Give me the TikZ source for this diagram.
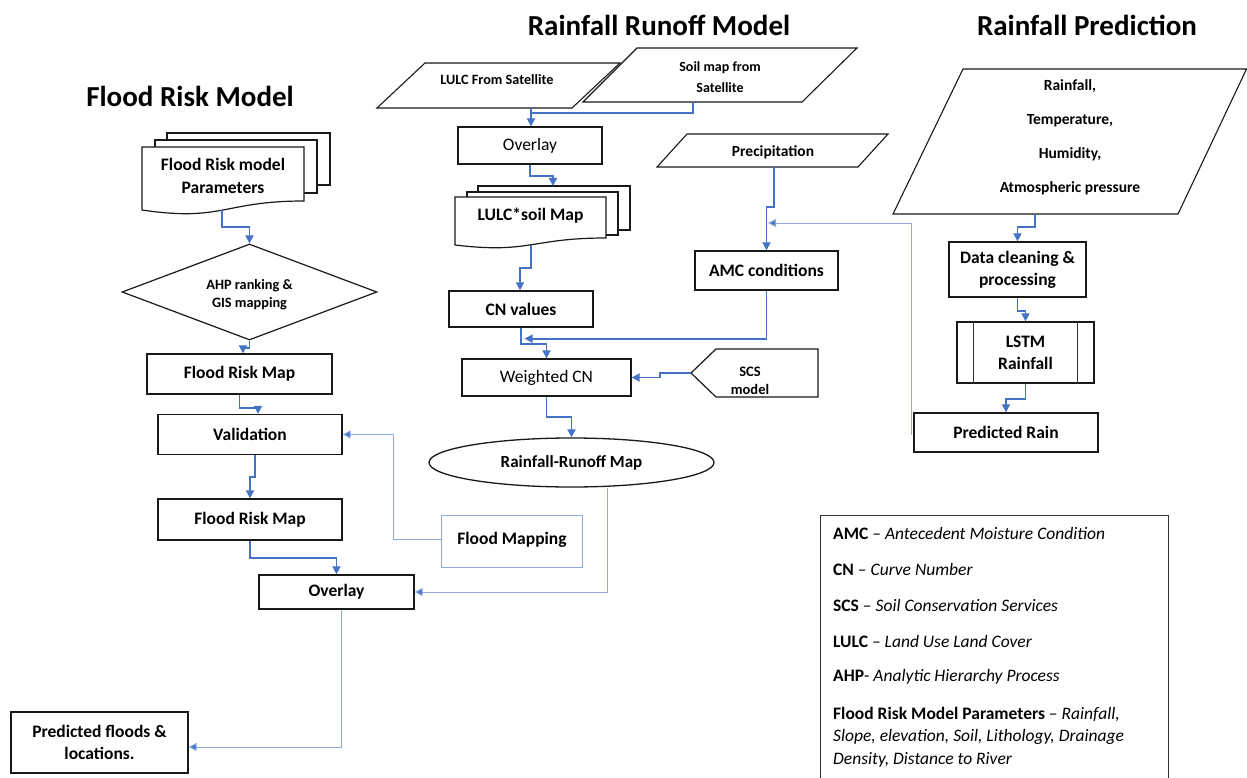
\documentclass[tikz,border=0pt]{standalone}
\usepackage{fontspec}
\setmainfont{Carlito}
\usetikzlibrary{arrows.meta,shapes.geometric,calc}
\definecolor{arrblue}{HTML}{4472C4}
\definecolor{thinblue}{HTML}{8FAADC}
\begin{document}
\begin{tikzpicture}[x=1pt,y=-1pt,
  box/.style={draw=black!90, line width=1.3pt, fill=white, inner sep=0pt, align=center,
    font=\fontsize{17.5}{22}\selectfont\bfseries},
  regbox/.style={box, font=\fontsize{17.5}{20}\selectfont},
  page/.style={draw=black!90, line width=1.2pt, fill=white},
  para/.style={draw=black!90, line width=1.1pt, fill=white},
  smalltxt/.style={align=center, inner sep=0pt, font=\fontsize{15}{21}\selectfont\bfseries},
  doctext/.style={align=center, inner sep=0pt, font=\fontsize{17.5}{23}\selectfont\bfseries},
  titletxt/.style={inner sep=0pt, font=\fontsize{29}{32}\selectfont\bfseries},
  legtxt/.style={anchor=west, inner sep=0pt, font=\fontsize{17.5}{19}\selectfont},
  arr/.style={draw=arrblue, line width=1.8pt, -{Triangle[length=8pt,width=8pt]}},
  ln/.style={draw=arrblue, line width=1.8pt},
  thinarr/.style={draw=thinblue, line width=1pt, -{Triangle[length=8pt,width=8pt,fill=arrblue]}},
]
\useasboundingbox (0,0) rectangle (1247,778);

% ---------- titles ----------
\node[titletxt] (t1) at (190,96) {Flood Risk Model};
\node[titletxt] (t2) at (659,25) {Rainfall Runoff Model};
\node[titletxt] (t3) at (1087,25) {Rainfall Prediction};

% ---------- left column ----------
\draw[page] (167,133) rectangle (330,185);
\draw[page] (155,140) rectangle (317,193);
\draw[page] (142,147) -- (304,147) -- (304,201) .. controls (223,201) and (223,222) .. (142,210) -- cycle;
\node[doctext] (frp) at (223,176) {Flood Risk model\\Parameters};
\coordinate (frpB) at (222,210);

\node[draw=black!90, line width=1.2pt, fill=white, diamond, aspect=2.66, minimum width=255pt,
  minimum height=96pt, inner sep=0pt] (ahp) at (249.5,292) {};
\node[align=center, inner sep=0pt, font=\fontsize{14.3}{18}\selectfont\bfseries]
  (ahpT) at (249.5,295) {AHP ranking \&\\GIS mapping};

\node[box, minimum width=185pt, minimum height=40pt] (frm1) at (239.5,374) {Flood Risk Map};
\node[box, minimum width=184pt, minimum height=40pt] (val) at (250,434.5) {Validation};
\node[box, minimum width=184pt, minimum height=41pt] (frm2) at (250,519.5) {Flood Risk Map};
\node[box, minimum width=155pt, minimum height=34pt] (ov2) at (336.5,592) {Overlay};
\node[box, draw=thinblue, line width=1pt, minimum width=141pt, minimum height=52pt] (fm) at (512,541)
  {\raisebox{6pt}{Flood Mapping}};
\node[box, minimum width=177pt, minimum height=61pt] (pf) at (99.5,742.5) {Predicted floods \&\\locations.};

% ---------- middle column ----------
\draw[para] (377,108) -- (425,63) -- (620,63) -- (572,108) -- cycle;
\node[smalltxt, font=\fontsize{14.2}{15}\selectfont\bfseries] (lulc) at (497,80) {LULC From Satellite};
\draw[para] (583,102) -- (637,48) -- (857,48) -- (802,102) -- cycle;
\node[smalltxt, font=\fontsize{14}{21}\selectfont\bfseries] (soil) at (720,77) {Soil map from\\Satellite};
\coordinate (lulcB) at (531,108);
\coordinate (soilB) at (693,102);

\node[regbox, minimum width=144pt, minimum height=37pt] (ov1) at (530,145.5) {Overlay};

\draw[page] (478,186) rectangle (630,230);
\draw[page] (467,192) rectangle (618,235);
\draw[page] (455,197) -- (606,197) -- (606,238) .. controls (530.5,238) and (530.5,254) .. (455,245) -- cycle;
\node[doctext] (lsm) at (530.5,216) {LULC*soil Map};
\coordinate (lsmT) at (553,186);
\coordinate (lsmB) at (531,245);

\node[box, minimum width=144pt, minimum height=36pt] (cn) at (521,309) {CN values};
\node[regbox, minimum width=169pt, minimum height=37pt] (wcn) at (546.5,377.5) {Weighted CN};

\draw[para, line width=1.2pt] (691,373) -- (716,349) -- (818,349) -- (818,397) -- (716,397) -- cycle;
\node[smalltxt, font=\fontsize{14.5}{18}\selectfont\bfseries] (scs) at (750,381) {SCS\\model};
\coordinate (scsP) at (691,373);

\draw[para] (657,167) -- (687,134) -- (888,134) -- (858,167) -- cycle;
\node[smalltxt, font=\fontsize{15.5}{18}\selectfont\bfseries] (prec) at (773,152) {Precipitation};
\coordinate (precB) at (774,167);

\node[box, minimum width=143pt, minimum height=39pt] (amc) at (766.5,270.5) {AMC conditions};

\node[draw=black!90, line width=1.3pt, fill=white, ellipse, minimum width=285pt, minimum height=49pt,
  inner sep=0pt, font=\fontsize{17}{19}\selectfont\bfseries] (rrm) at (571.5,462.5) {Rainfall-Runoff Map};

% ---------- right column ----------
\draw[para] (893,214) -- (963,69) -- (1246.5,69) -- (1178,214) -- cycle;
\node[smalltxt, font=\fontsize{15.5}{34}\selectfont\bfseries] (wx) at (1070,137) {Rainfall,\\Temperature,\\Humidity,\\Atmospheric pressure};
\coordinate (wxB) at (1035,214);

\node[box, minimum width=137pt, minimum height=55pt] (dc) at (1017.5,269.5) {Data cleaning \&\\processing};
\node[box, minimum width=137pt, minimum height=61pt] (lstm) at (1025.5,352.5) {LSTM\\Rainfall};
\draw[draw=black!80, line width=1.2pt] ([xshift=17pt]lstm.north west) -- ([xshift=17pt]lstm.south west);
\draw[draw=black!80, line width=1.2pt] ([xshift=-17pt]lstm.north east) -- ([xshift=-17pt]lstm.south east);
\node[box, minimum width=184pt, minimum height=39pt] (pr) at (1006,432.5) {Predicted Rain};

% ---------- legend ----------
\draw[draw=black!80, line width=1pt] (820,515) rectangle (1168,800);
\node[legtxt] (l1) at (833,533) {\textbf{AMC} – \textit{Antecedent Moisture Condition}};
\node[legtxt] (l2) at (833,569) {\textbf{CN} – \textit{Curve Number}};
\node[legtxt] (l3) at (833,605) {\textbf{SCS} – \textit{Soil Conservation Services}};
\node[legtxt] (l4) at (833,641) {\textbf{LULC} – \textit{Land Use Land Cover}};
\node[legtxt] (l5) at (833,677) {\textbf{AHP}- \textit{Analytic Hierarchy Process}};
\node[legtxt] (l6) at (833,714) {\textbf{Flood Risk Model Parameters} – \textit{Rainfall,}};
\node[legtxt] (l7) at (833,737) {\textit{Slope, elevation, Soil, Lithology, Drainage}};
\node[legtxt] (l8) at (833,760) {\textit{Density, Distance to River}};

% ---------- connectors ----------
\draw[arr] (frpB) -- ++(0,17) -| (ahp.north);
\draw[arr] (ahp.south) -- ++(0,7) -| ([xshift=3.5pt]frm1.north);
\draw[arr] (frm1.south) -- ++(0,13) -| ([xshift=8pt]val.north);
\draw[arr] ([xshift=5pt]val.south) -- ++(0,22) -| (frm2.north);
\draw[arr] (frm2.south) -- ++(0,17) -| (ov2.north);
\draw[thinarr] ([yshift=2pt]fm.west) -- ++(-48,0) |- (val.east);
\draw[thinarr] ([xshift=35.5pt]rrm.south) |- (ov2.east);
\draw[thinarr] ([xshift=4.5pt]ov2.south) |- ([yshift=-4.5pt]pf.east);

\draw[arr] (lulcB) -- ([xshift=1pt]ov1.north);
\draw[ln] (soilB) -- ++(0,11) -- ($(lulcB)+(0,5)$);
\draw[arr] (ov1.south) -- ++(0,11) -| (lsmT);
\draw[arr] (lsmB) -- ++(0,23) -| ([xshift=-1pt]cn.north);
\draw[arr] (cn.south) -- ++(0,16) -| (wcn.north);
\draw[arr] (amc.south) -- ++(0,48) -- ++(-242,0);
\draw[arr] (scsP) -- ++(-31,0) |- (wcn.east);
\draw[arr] (wcn.south) -- ++(0,20) -| (rrm.north);
\draw[arr] (precB) -- ++(0,40) -| (amc.north);
\draw[thinarr] ([xshift=-2pt,yshift=-2pt]pr.west) |- (768,223);

\draw[arr] (wxB) -- ++(0,13) -| (dc.north);
\draw[arr] (dc.south) -- ++(0,13) -| (lstm.north);
\draw[arr] (lstm.south) -- ++(0,15) -| (pr.north);
\end{tikzpicture}
\end{document}
